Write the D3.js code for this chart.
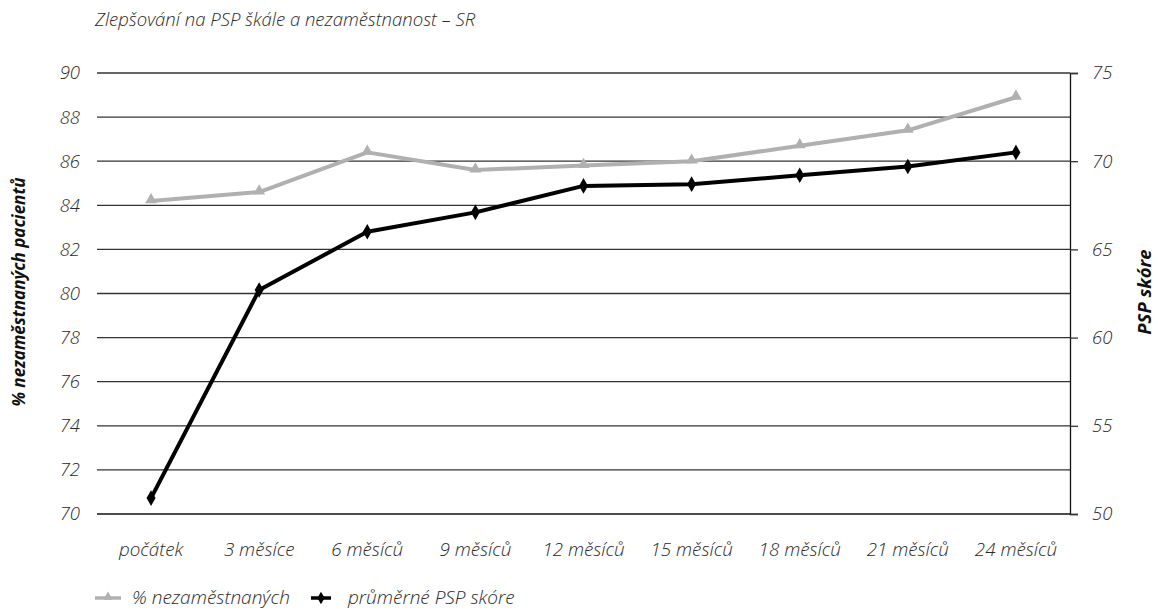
<!DOCTYPE html>
<html>
<head>
<meta charset="utf-8">
<script src="https://cdn.jsdelivr.net/npm/d3@7"></script>
<style>
  body { margin: 0; background: #fff; }
  svg { display: block; font-family: "Open Sans", "Noto Sans", sans-serif; }
</style>
</head>
<body>
<svg id="chart" width="1158" height="614"></svg>
<script>
// Categories (time since start of treatment)
const categories = ["počátek", "3 měsíce", "6 měsíců", "9 měsíců", "12 měsíců", "15 měsíců", "18 měsíců", "21 měsíců", "24 měsíců"];
// % of unemployed patients (left axis)
const unemployed = [84.2, 84.6, 86.4, 85.6, 85.8, 86.0, 86.7, 87.4, 88.9];
// Average PSP score (right axis)
const pspScore = [50.9, 62.7, 66.0, 67.1, 68.6, 68.7, 69.2, 69.7, 70.5];
// Axis ticks
const leftTicks = [70, 72, 74, 76, 78, 80, 82, 84, 86, 88, 90];
const rightTicks = [50, 55, 60, 65, 70, 75];

const titleText = "Zlepšování na PSP škále a nezaměstnanost – SR";
const leftTitle = "% nezaměstnaných pacientů";
const rightTitle = "PSP skóre";
const legendNames = ["% nezaměstnaných", "průměrné PSP skóre"];

const svg = d3.select("#chart");
const m = { left: 97, right: 1070, top: 73, bottom: 514 };

const x = d3.scaleBand().domain(categories).range([m.left, m.right]);
const yL = d3.scaleLinear().domain([70, 90]).range([m.bottom, m.top]);
const yR = d3.scaleLinear().domain([50, 75]).range([m.bottom, m.top]);

const textCol = "#2a2a2a";

// Title
svg.append("text")
  .attr("x", 95).attr("y", 26)
  .attr("font-size", 18.5).attr("font-style", "italic").attr("font-weight", 300)
  .attr("fill", textCol)
  .text(titleText);

// Horizontal gridlines (left axis)
svg.append("g").selectAll("line").data(leftTicks).join("line")
  .attr("x1", m.left).attr("x2", m.right)
  .attr("y1", d => yL(d)).attr("y2", d => yL(d))
  .attr("stroke", d => d === 70 ? "#111" : "#333")
  .attr("stroke-width", d => d === 70 ? 1.6 : 1.3);

// Left tick labels
svg.append("g").selectAll("text").data(leftTicks).join("text")
  .attr("x", 80).attr("y", d => yL(d))
  .attr("dy", "0.35em").attr("text-anchor", "end")
  .attr("font-size", 18.5).attr("font-style", "italic").attr("font-weight", 300)
  .attr("fill", textCol)
  .text(d => d);

// Right axis
const rAxis = d3.axisRight(yR).tickValues(rightTicks).tickSize(8).tickPadding(14);
const rg = svg.append("g").attr("transform", `translate(${m.right},0)`).call(rAxis);
rg.select(".domain").attr("stroke", "#111").attr("stroke-width", 1.3);
rg.selectAll(".tick line").attr("stroke", "#333").attr("stroke-width", 1.3);
rg.selectAll(".tick text")
  .attr("font-size", 18.5).attr("font-style", "italic").attr("font-weight", 300)
  .attr("fill", textCol).attr("font-family", "Open Sans, Noto Sans, sans-serif");

// Category labels
svg.append("g").selectAll("text").data(categories).join("text")
  .attr("x", d => x(d) + x.bandwidth() / 2).attr("y", 556)
  .attr("text-anchor", "middle")
  .attr("font-size", 18.8).attr("font-style", "italic").attr("font-weight", 300)
  .attr("fill", textCol)
  .text(d => d);

// Axis titles
svg.append("text")
  .attr("transform", "translate(25,292) rotate(-90)")
  .attr("text-anchor", "middle")
  .attr("font-size", 17).attr("font-style", "italic").attr("font-weight", 700)
  .attr("fill", "#111")
  .text(leftTitle);
svg.append("text")
  .attr("transform", "translate(1151,292) rotate(-90)")
  .attr("text-anchor", "middle")
  .attr("font-size", 18.5).attr("font-style", "italic").attr("font-weight", 700)
  .attr("fill", "#111")
  .text(rightTitle);

const cx = (d, i) => x(categories[i]) + x.bandwidth() / 2;
const grey = "#b0b0b0";

// Unemployment line
svg.append("path")
  .datum(unemployed)
  .attr("fill", "none").attr("stroke", grey).attr("stroke-width", 4)
  .attr("stroke-linejoin", "round")
  .attr("d", d3.line().x(cx).y(d => yL(d)));
const tri = d3.symbol().type(d3.symbolTriangle).size(60);
svg.append("g").selectAll("path").data(unemployed).join("path")
  .attr("transform", (d, i) => `translate(${cx(d, i)},${yL(d) - 1})`)
  .attr("d", tri).attr("fill", grey);

// PSP score line
svg.append("path")
  .datum(pspScore)
  .attr("fill", "none").attr("stroke", "#000").attr("stroke-width", 4)
  .attr("stroke-linejoin", "round")
  .attr("d", d3.line().x(cx).y(d => yR(d)));
const dia = d3.symbol().type(d3.symbolDiamond).size(70);
svg.append("g").selectAll("path").data(pspScore).join("path")
  .attr("transform", (d, i) => `translate(${cx(d, i)},${yR(d)})`)
  .attr("d", dia).attr("fill", "#000");

// Legend
const lg = svg.append("g");
lg.append("line").attr("x1", 95).attr("x2", 121).attr("y1", 598).attr("y2", 598)
  .attr("stroke", grey).attr("stroke-width", 3.5);
lg.append("path").attr("transform", "translate(108,597)").attr("d", d3.symbol().type(d3.symbolTriangle).size(40)).attr("fill", grey);
lg.append("text").attr("x", 132).attr("y", 604)
  .attr("font-size", 19).attr("font-style", "italic").attr("font-weight", 300).attr("fill", textCol)
  .text(legendNames[0]);
lg.append("line").attr("x1", 311).attr("x2", 331).attr("y1", 598).attr("y2", 598)
  .attr("stroke", "#000").attr("stroke-width", 3.5);
lg.append("path").attr("transform", "translate(321,598)").attr("d", d3.symbol().type(d3.symbolDiamond).size(45)).attr("fill", "#000");
lg.append("text").attr("x", 348).attr("y", 604)
  .attr("font-size", 19).attr("font-style", "italic").attr("font-weight", 300).attr("fill", textCol)
  .text(legendNames[1]);
</script>
</body>
</html>
